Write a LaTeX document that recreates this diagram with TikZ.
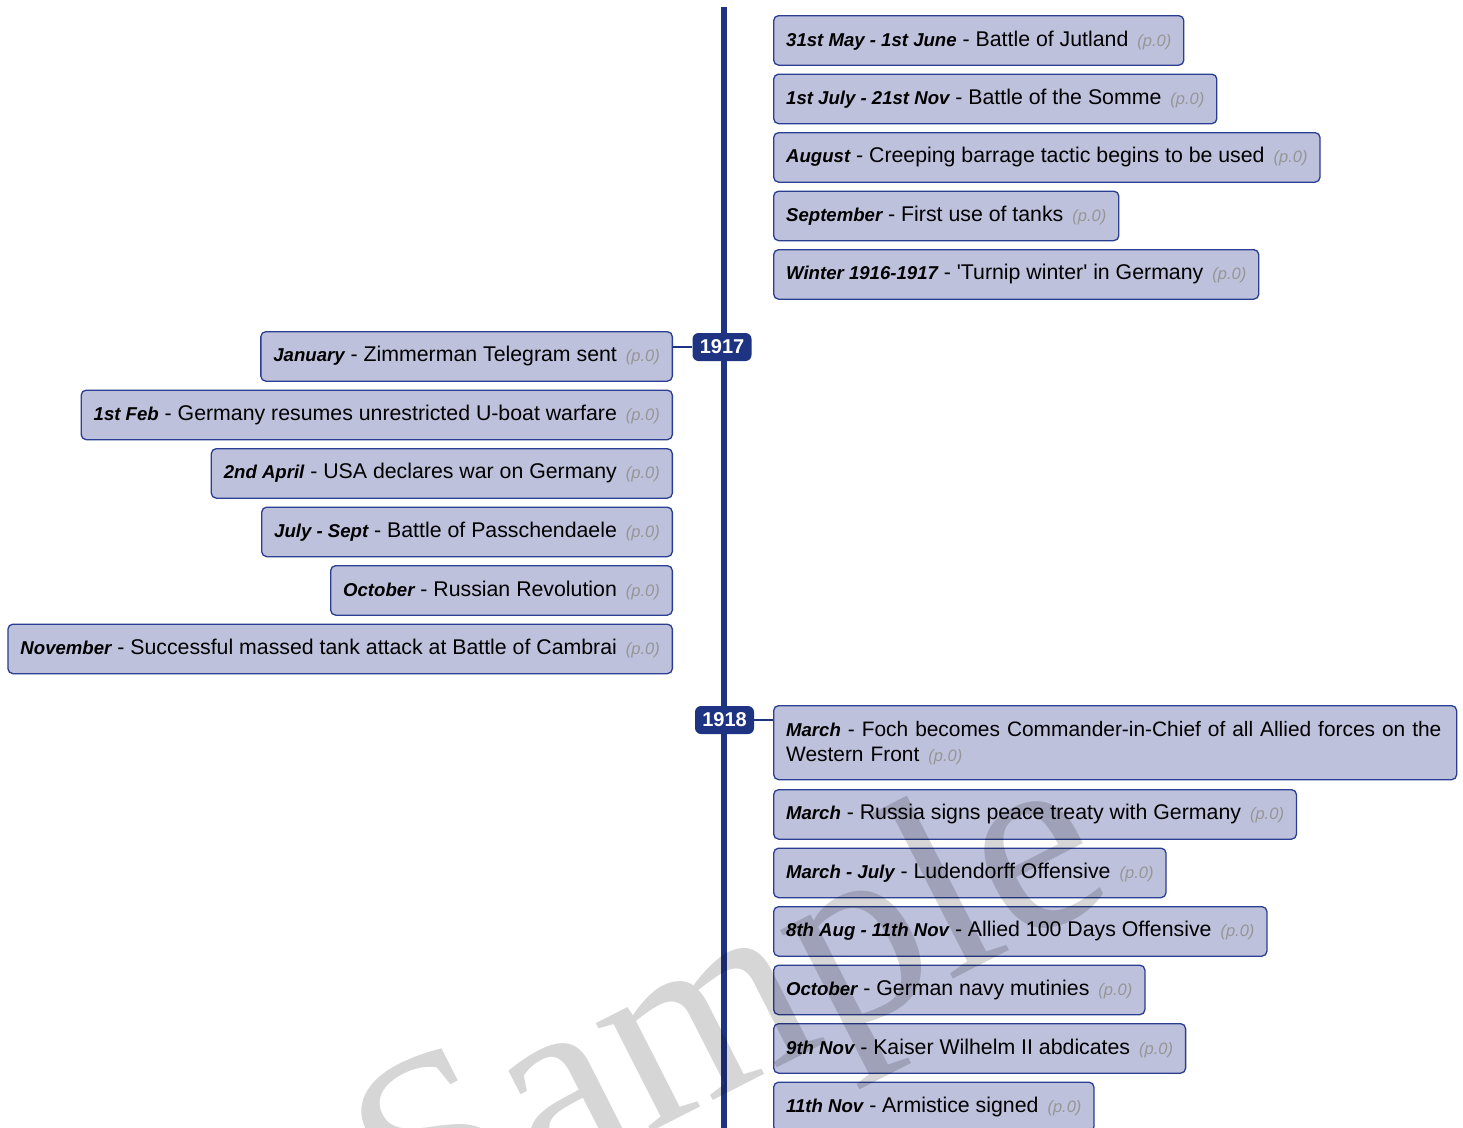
\documentclass[tikz,border=0pt]{standalone}
\usepackage{fontspec}
\setmainfont{Liberation Sans}
\newfontfamily\wmfont{Liberation Serif}
\definecolor{boxfill}{RGB}{189,193,219}
\definecolor{boxline}{RGB}{42,62,146}
\definecolor{navy}{RGB}{30,52,130}
\definecolor{pgray}{RGB}{150,150,150}
\newcommand{\evdate}[1]{{\fontsize{18.6}{22}\selectfont\bfseries\itshape #1}}
\newcommand{\evpage}{\hspace{9pt}{\fontsize{16.5}{20}\selectfont\itshape\color{pgray}(p.0)}}
\tikzset{
  evbox/.style={draw=boxline, fill=boxfill, line width=1.3pt, rounded corners=5pt,
    minimum height=49.5pt, inner xsep=12.5pt, inner ysep=0pt,
    font=\fontsize{21.3}{25}\selectfont},
  yearbadge/.style={fill=navy, text=white, rounded corners=6pt, minimum width=59pt,
    minimum height=28pt, inner sep=0pt, font=\fontsize{20}{24}\selectfont\bfseries},
  link/.style={draw=navy, line width=2pt},
  timeline/.style={draw=navy, line width=6pt},
}
\begin{document}
\begin{tikzpicture}[x=1pt,y=-1pt]
\useasboundingbox (0,0) rectangle (1463,1127);
\clip (0,0) rectangle (1463,1127);
\fill[white] (0,0) rectangle (1463,1127);

% timeline
\coordinate (ttop) at (724,7);
\coordinate (tbot) at (724,1140);
\draw[timeline] (ttop) -- (tbot);

% 1916 events (right)
\node[evbox, anchor=north west] (a1) at (773,15) {\evdate{31st May - 1st June} - Battle of Jutland\evpage};
\node[evbox, anchor=north west] (a2) at (773,73.5) {\evdate{1st July - 21st Nov} - Battle of the Somme\evpage};
\node[evbox, anchor=north west] (a3) at (773,132) {\evdate{August} - Creeping barrage tactic begins to be used\evpage};
\node[evbox, anchor=north west] (a4) at (773,190.5) {\evdate{September} - First use of tanks\evpage};
\node[evbox, anchor=north west] (a5) at (773,249) {\evdate{Winter 1916-1917} - \textquotesingle Turnip winter\textquotesingle{} in Germany\evpage};

% 1917
\node[yearbadge] (y17) at (722,347) {1917};
\node[evbox, anchor=north east] (b1) at (673,331) {\evdate{January} - Zimmerman Telegram sent\evpage};
\node[evbox, anchor=north east] (b2) at (673,389.5) {\evdate{1st Feb} - Germany resumes unrestricted U-boat warfare\evpage};
\node[evbox, anchor=north east] (b3) at (673,448) {\evdate{2nd April} - USA declares war on Germany\evpage};
\node[evbox, anchor=north east] (b4) at (673,506.5) {\evdate{July - Sept} - Battle of Passchendaele\evpage};
\node[evbox, anchor=north east] (b5) at (673,565) {\evdate{October} - Russian Revolution\evpage};
\node[evbox, anchor=north east] (b6) at (673,623.5) {\evdate{November} - Successful massed tank attack at Battle of Cambrai\evpage};
\draw[link] (y17.west) -- (y17.west -| b1.east);

% 1918
\node[yearbadge] (y18) at (724.5,720) {1918};
\node[evbox, anchor=north west, align=left, text width=658pt, minimum height=74pt,
      font=\fontsize{20.9}{25}\selectfont] (c1) at (773,705)
  {\mbox{\evdate{March} - Foch becomes Commander-in-Chief of all Allied forces on the}\\Western Front\evpage};
\node[evbox, anchor=north west] (c2) at (773,789) {\evdate{March} - Russia signs peace treaty with Germany\evpage};
\node[evbox, anchor=north west] (c3) at (773,847.5) {\evdate{March - July} - Ludendorff Offensive\evpage};
\node[evbox, anchor=north west] (c4) at (773,906) {\evdate{8th Aug - 11th Nov} - Allied 100 Days Offensive\evpage};
\node[evbox, anchor=north west] (c5) at (773,964.5) {\evdate{October} - German navy mutinies\evpage};
\node[evbox, anchor=north west] (c6) at (773,1023) {\evdate{9th Nov} - Kaiser Wilhelm II abdicates\evpage};
\node[evbox, anchor=north west] (c7) at (773,1081.5) {\evdate{11th Nov} - Armistice signed\evpage};
\draw[link] (y18.east) -- (y18.east -| c1.west);

% watermark
\node[rotate=27, opacity=0.16, text=black, inner sep=0pt, font=\wmfont\fontsize{265}{275}\selectfont] (wm) at (736,1018) {Sample};
\end{tikzpicture}
\end{document}
